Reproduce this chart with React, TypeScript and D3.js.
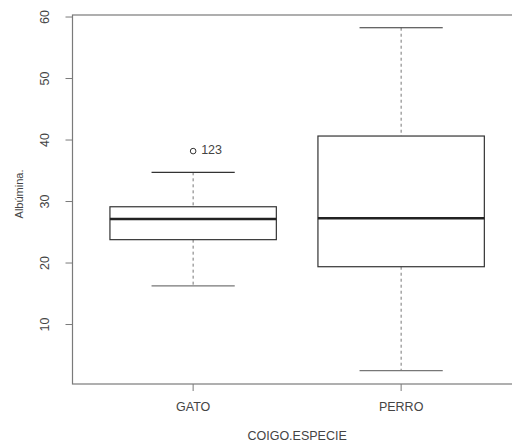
import React from "react";
import * as d3 from "d3";

const categories = ["GATO", "PERRO"];
const lowerWhisker = [16.3, 2.5];
const q1 = [23.8, 19.4];
const median = [27.15, 27.27];
const q3 = [29.15, 40.65];
const upperWhisker = [34.75, 58.26];
const outlierCategory = ["GATO"];
const outlierValue = [38.2];
const outlierLabel = ["123"];
const yTicks = [10, 20, 30, 40, 50, 60];
const xTitle = "COIGO.ESPECIE";
const yTitle = "Albúmina.";

export default function App() {
  const W = 512, H = 443;
  const left = 72.5, top = 15, bottom = 384;
  const x = d3.scaleLinear().domain([0.42, 2.58]).range([left, left + 2.16 * 208]);
  const y = d3.scaleLinear().domain([0.33, 60.33]).range([bottom, top]);
  const font = "'Liberation Sans', Arial, sans-serif";
  const axisCol = "#7a7a7a";
  const boxCol = "#333";
  const whiskCol = "#777";
  const textCol = "#444";
  const bw = 0.8, cw = 0.4;
  const right = x(2.58);
  return (
    <svg width={W} height={H} style={{ position: "absolute", left: 0, top: 0, background: "#fff" }} fontFamily={font}>
      <rect x={left} y={top} width={right - left} height={bottom - top} fill="none" stroke={axisCol} strokeWidth={1.2} />
      {yTicks.map((t) => (
        <g key={t}>
          <line x1={left - 7} x2={left} y1={y(t)} y2={y(t)} stroke={axisCol} strokeWidth={1} />
          <text transform={`translate(${46},${y(t)}) rotate(-90)`} textAnchor="middle" dominantBaseline="middle" fontSize={12.5} fill={textCol}>{t}</text>
        </g>
      ))}
      {categories.map((c, i) => {
        const cx = x(i + 1);
        return (
          <g key={c}>
            <line x1={cx} x2={cx} y1={bottom} y2={bottom + 7} stroke={axisCol} strokeWidth={1} />
            <text x={cx} y={408} textAnchor="middle" dominantBaseline="middle" fontSize={12.5} fill={textCol}>{c}</text>
            <line x1={cx} x2={cx} y1={y(upperWhisker[i])} y2={y(q3[i])} stroke={whiskCol} strokeDasharray="3,3" />
            <line x1={cx} x2={cx} y1={y(q1[i])} y2={y(lowerWhisker[i])} stroke={whiskCol} strokeDasharray="3,3" />
            <line x1={x(i + 1 - cw / 2)} x2={x(i + 1 + cw / 2)} y1={y(upperWhisker[i])} y2={y(upperWhisker[i])} stroke={boxCol} strokeWidth={1.2} />
            <line x1={x(i + 1 - cw / 2)} x2={x(i + 1 + cw / 2)} y1={y(lowerWhisker[i])} y2={y(lowerWhisker[i])} stroke={whiskCol} strokeWidth={1.2} />
            <rect x={x(i + 1 - bw / 2)} y={y(q3[i])} width={x(i + 1 + bw / 2) - x(i + 1 - bw / 2)} height={y(q1[i]) - y(q3[i])} fill="none" stroke={boxCol} strokeWidth={1.2} />
            <line x1={x(i + 1 - bw / 2)} x2={x(i + 1 + bw / 2)} y1={y(median[i])} y2={y(median[i])} stroke="#222" strokeWidth={2.6} />
          </g>
        );
      })}
      {outlierValue.map((v, j) => {
        const cx = x(categories.indexOf(outlierCategory[j]) + 1);
        return (
          <g key={j}>
            <circle cx={cx} cy={y(v)} r={2.8} fill="none" stroke={boxCol} strokeWidth={1} />
            <text x={cx + 8} y={y(v)} dominantBaseline="middle" fontSize={12.5} fill={textCol}>{outlierLabel[j]}</text>
          </g>
        );
      })}
      <text x={x(1.5)} y={437} textAnchor="middle" dominantBaseline="middle" fontSize={12.5} fill={textCol}>{xTitle}</text>
      <text transform={`translate(${20},${194}) rotate(-90)`} textAnchor="middle" dominantBaseline="middle" fontSize={11} fill={textCol}>{yTitle}</text>
    </svg>
  );
}
